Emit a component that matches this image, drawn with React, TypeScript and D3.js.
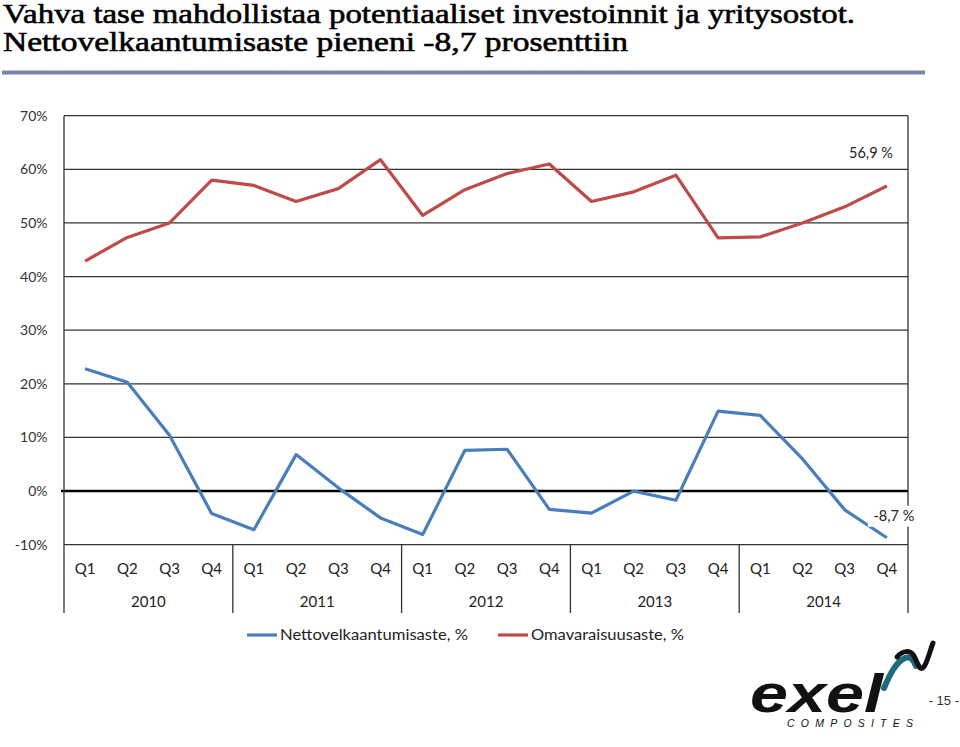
import * as d3 from "d3";

const titleLines = [
  "Vahva tase mahdollistaa potentiaaliset investoinnit ja yritysostot.",
  "Nettovelkaantumisaste pieneni -8,7 prosenttiin",
];
const quarters = ["Q1", "Q2", "Q3", "Q4"];
const years = ["2010", "2011", "2012", "2013", "2014"];
const yTicks = [-10, 0, 10, 20, 30, 40, 50, 60, 70];

// Nettovelkaantumisaste, % (blue)
const netDebt = [22.8, 20.3, 10.4, -4.2, -7.2, 6.8, 0.6, -5.0, -8.1, 7.6, 7.8, -3.4, -4.1, 0.0, -1.7, 14.9, 14.1, 6.0, -3.5, -8.7];
// Omavaraisuusaste, % (red)
const equity = [42.9, 47.3, 50.0, 58.0, 57.0, 54.0, 56.4, 61.8, 51.4, 56.2, 59.2, 61.0, 54.0, 55.8, 58.9, 47.2, 47.4, 50.0, 53.0, 56.9];

const seriesNames = ["Nettovelkaantumisaste, %", "Omavaraisuusaste, %"];
const endLabels = ["-8,7 %", "56,9 %"];

const BLUE = "#4a7ebb";
const RED = "#be4b48";
const FONT = "Lato, 'Open Sans', sans-serif";
const SERIF = "'Liberation Serif', 'Times New Roman', serif";
const SANS = "'Liberation Sans', Arial, sans-serif";

export default function App() {
  const W = 960;
  const H = 747;
  const m = { left: 64, right: 908, top: 115.7, bottom: 544.7 };
  const axisBottom = 613;

  const cats = years.flatMap((yr) => quarters.map((q) => `${yr} ${q}`));
  const x = d3.scaleBand<string>().domain(cats).range([m.left, m.right]);
  const bw = x.bandwidth();
  const cx = (i: number) => x(cats[i])! + bw / 2;
  const y = d3.scaleLinear().domain([-10, 70]).range([m.bottom, m.top]);

  const line = d3
    .line<number>()
    .x((_, i) => cx(i))
    .y((d) => y(d));

  const last = cats.length - 1;

  return (
    <svg width={W} height={H} style={{ position: "absolute", left: 0, top: 0, background: "#fff" }}>
      {/* title */}
      <g fontFamily={SERIF} fill="#000" stroke="#000" strokeWidth={0.6}>
        <text x={3} y={23} fontSize={28} textLength={852} lengthAdjust="spacingAndGlyphs">
          {titleLines[0]}
        </text>
        <text x={3} y={51} fontSize={28} textLength={625} lengthAdjust="spacingAndGlyphs">
          {titleLines[1]}
        </text>
      </g>
      <rect x={2} y={70.5} width={923} height={4} fill="#7d82a8" />

      {/* gridlines */}
      {yTicks.map((t) => (
        <line
          key={t}
          x1={t === 0 ? m.left - 3 : m.left}
          x2={m.right}
          y1={y(t)}
          y2={y(t)}
          stroke={t === 0 ? "#000" : "#333"}
          strokeWidth={t === 0 ? 2.5 : 1.2}
        />
      ))}
      {yTicks.map((t) => (
        <text key={"l" + t} x={47.5} y={y(t) + 5} textAnchor="end" fontFamily={FONT} fontSize={14} fill="#333">
          {`${t}%`}
        </text>
      ))}

      {/* frame and year separators */}
      <line x1={m.left} x2={m.left} y1={m.top} y2={axisBottom} stroke="#333" strokeWidth={1.3} />
      <line x1={m.right} x2={m.right} y1={m.top} y2={axisBottom} stroke="#333" strokeWidth={1.3} />
      {years.slice(1).map((yr, k) => {
        const xx = x(cats[(k + 1) * 4])!;
        return <line key={yr} x1={xx} x2={xx} y1={m.bottom} y2={axisBottom} stroke="#333" strokeWidth={1.3} />;
      })}

      {/* category labels */}
      {cats.map((c, i) => (
        <text key={c} x={cx(i)} y={574} textAnchor="middle" fontFamily={FONT} fontSize={15} fill="#222">
          {quarters[i % 4]}
        </text>
      ))}
      {years.map((yr, k) => (
        <text
          key={yr}
          x={(x(cats[k * 4])! + x(cats[k * 4 + 3])! + bw) / 2}
          y={607}
          textAnchor="middle"
          fontFamily={FONT}
          fontSize={15}
          fill="#222"
        >
          {yr}
        </text>
      ))}

      {/* series */}
      <path d={line(equity)!} fill="none" stroke={RED} strokeWidth={3.2} strokeLinejoin="round" />
      <path d={line(netDebt)!} fill="none" stroke={BLUE} strokeWidth={3.2} strokeLinejoin="round" />

      {/* end labels */}
      <text x={cx(last) + 6} y={y(equity[last]) - 28} textAnchor="end" fontFamily={FONT} fontSize={14.5} fill="#222">
        {endLabels[1]}
      </text>
      <rect x={cx(last) - 19} y={y(netDebt[last]) - 32} width={50} height={21} fill="#fff" />
      <text x={cx(last) + 7} y={y(netDebt[last]) - 17} textAnchor="middle" fontFamily={FONT} fontSize={14.5} fill="#222">
        {endLabels[0]}
      </text>

      {/* legend */}
      <g fontFamily={FONT} fontSize={15.5} fill="#222">
        <line x1={247} x2={277} y1={635} y2={635} stroke={BLUE} strokeWidth={3.2} />
        <text x={280} y={640} textLength={188} lengthAdjust="spacingAndGlyphs">{seriesNames[0]}</text>
        <line x1={498} x2={528} y1={635} y2={635} stroke={RED} strokeWidth={3.2} />
        <text x={531} y={640} textLength={153} lengthAdjust="spacingAndGlyphs">{seriesNames[1]}</text>
      </g>

      {/* logo */}
      <g>
        <path
          d="M884,688 C890,674 896,662 905,658 C910,656 914,660 916,666"
          fill="none"
          stroke="#1d6b7c"
          strokeWidth={6}
          strokeLinecap="round"
        />
        <path
          d="M897,657 C903,650 910,650 914,656 C918,663 920,674 925,665 C928,659 930,651 933,643"
          fill="none"
          stroke="#111"
          strokeWidth={5}
          strokeLinecap="round"
        />
        <text
          x={750}
          y={712}
          fontFamily={SANS}
          fontWeight="900"
          fontStyle="italic"
          fontSize={54}
          textLength={133}
          lengthAdjust="spacingAndGlyphs"
          fill="#111"
        >
          exel
        </text>
        <text
          x={787}
          y={727}
          fontFamily={SANS}
          fontStyle="italic"
          fontSize={10.5}
          textLength={126}
          lengthAdjust="spacing"
          fill="#111"
        >
          COMPOSITES
        </text>
        <text x={959} y={705} textAnchor="end" fontFamily={SANS} fontSize={13} fill="#333">
          - 15 -
        </text>
      </g>
    </svg>
  );
}
